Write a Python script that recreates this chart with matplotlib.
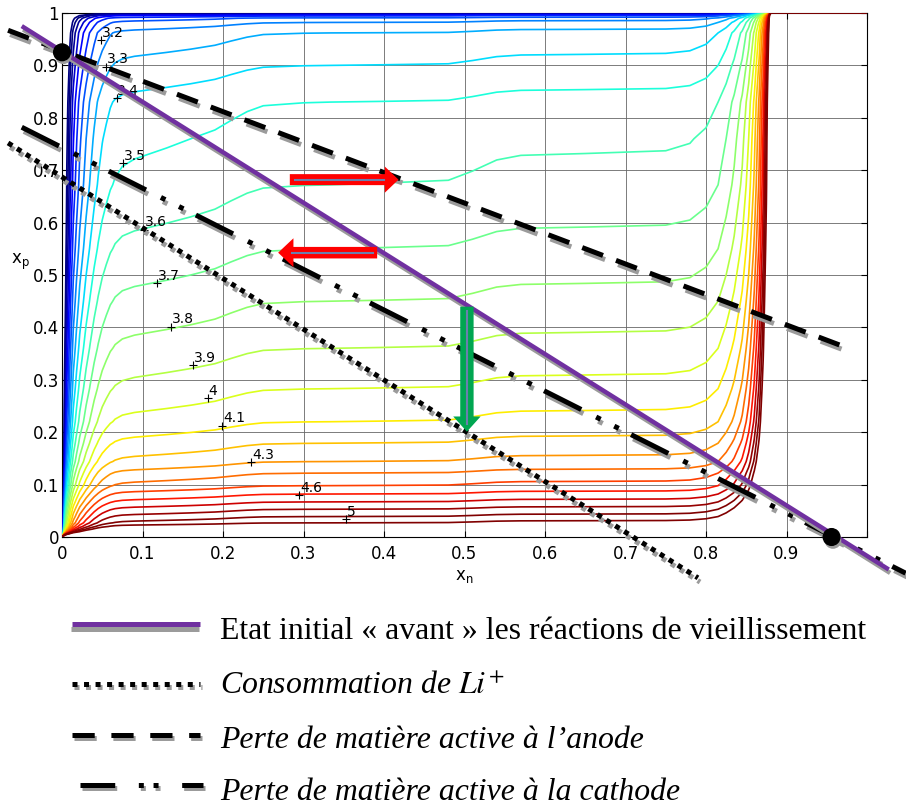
import numpy as np
import matplotlib
matplotlib.use('Agg')
import matplotlib.pyplot as plt
import matplotlib.patheffects as pe
from matplotlib.patches import FancyArrow

plt.rcParams['lines.scale_dashes'] = False
plt.rcParams['mathtext.fontset'] = 'dejavusans'

# anode potential Un(xn) and cathode potential Up(xp), read back from the map (V)
xn_tab = np.array([0.0, 0.003, 0.006, 0.01, 0.014, 0.018, 0.022, 0.026, 0.03, 0.035,
                   0.04, 0.045, 0.05, 0.055, 0.06, 0.066, 0.075, 0.09, 0.11, 0.13,
                   0.16, 0.19, 0.21, 0.23, 0.25, 0.3, 0.4, 0.48, 0.51, 0.54,
                   0.57, 0.65, 0.75, 0.78, 0.8, 0.815, 0.825, 0.835, 0.845, 0.853,
                   0.86, 0.866, 0.871, 0.875, 0.878, 0.881, 0.9, 1.0])
un_tab = np.array([3.0, 1.6, 1.2, 0.95, 0.78, 0.68, 0.59, 0.53, 0.47, 0.41,
                   0.355, 0.31, 0.275, 0.25, 0.228, 0.212, 0.2, 0.192, 0.186, 0.18,
                   0.17, 0.158, 0.145, 0.133, 0.125, 0.121, 0.118, 0.115, 0.105, 0.093,
                   0.088, 0.086, 0.083, 0.075, 0.055, 0.02, -0.03, -0.1, -0.2, -0.33,
                   -0.5, -0.7, -0.95, -1.25, -1.6, -2.55, -2.55, -2.55])
xp_tab = np.array([0.0, 0.003, 0.006, 0.01, 0.015, 0.02, 0.027, 0.039, 0.053, 0.067,
                   0.082, 0.098, 0.122, 0.144, 0.179, 0.22, 0.283, 0.36, 0.45, 0.55,
                   0.672, 0.76, 0.83, 0.9, 0.962, 0.982, 0.99, 0.995, 0.998, 1.0])
up_tab = np.array([9.0, 6.6, 6.0, 5.6, 5.38, 5.24, 5.12, 5.02, 4.92, 4.82,
                   4.72, 4.62, 4.52, 4.42, 4.32, 4.22, 4.12, 4.02, 3.92, 3.82,
                   3.72, 3.67, 3.62, 3.52, 3.42, 3.32, 3.24, 3.1, 2.85, 2.4])
levels = [2.5, 2.6, 2.7, 2.8, 2.9, 3.0, 3.1, 3.2, 3.3, 3.4, 3.5, 3.6, 3.7,
          3.8, 3.9, 4.0, 4.1, 4.2, 4.3, 4.4, 4.5, 4.6, 4.7, 4.8, 4.9, 5.0]

# contour labels (clabel style)
lab_txt = ['3.2', '3.3', '3.4', '3.5', '3.6', '3.7', '3.8', '3.9', '4', '4.1', '4.3', '4.6', '5']
lab_x = [0.049, 0.055, 0.068, 0.076, 0.102, 0.118, 0.136, 0.163, 0.181, 0.199, 0.235, 0.295, 0.353]
lab_y = [0.948, 0.897, 0.837, 0.713, 0.586, 0.484, 0.401, 0.328, 0.265, 0.212, 0.143, 0.080, 0.034]

# ageing lines (end points)
init_x = [-0.05, 1.027]
init_y = [0.975, -0.062]
li_x = [-0.067, 0.79]
li_y = [0.752, -0.078]
anode_x = [-0.067, 0.977]
anode_y = [0.967, 0.36]
cath_x = [-0.05, 1.048]
cath_y = [0.782, -0.069]
dots_x = [0.0, 0.956]
dots_y = [0.925, 0.0]

legend_txt = ['Etat initial « avant » les réactions de vieillissement',
              'Consommation de $Li^{+}$',
              'Perte de matière active à l\u2019anode',
              'Perte de matière active à la cathode']

purple = '#7030a0'
shadow = '#9b9b9b'
dash_anode = (0, (16, 10))
dash_cath = (0, (30, 12, 3.6, 11, 3.6, 10))
dash_li = (0, (3.6, 4))


def shade(off=(1.5, -3)):
    return [pe.SimpleLineShadow(offset=off, shadow_color=shadow, alpha=1), pe.Normal()]


fig = plt.figure(figsize=(9.06, 8.10), dpi=100)
ax = fig.add_axes([62 / 906, 273 / 810, 805 / 906, 524 / 810])

Z = up_tab[:, None] - un_tab[None, :]
ax.contour(xn_tab, xp_tab, Z, levels=levels, cmap='jet', vmin=2.65, vmax=4.85,
           linewidths=1.2, zorder=3)

for t, x, y in zip(lab_txt, lab_x, lab_y):
    ax.plot(x, y, marker='+', color='k', ms=6, mew=0.8, zorder=4)
    ax.annotate(t, (x, y), xytext=(0.5, 2.5), textcoords='offset points',
                ha='left', va='baseline', fontsize=10, zorder=4)

ax.set_xlim(0, 1)
ax.set_ylim(0, 1)
ax.set_xticks(np.arange(0, 1.01, 0.1))
ax.set_xticklabels(['0', '0.1', '0.2', '0.3', '0.4', '0.5', '0.6', '0.7', '0.8', '0.9', ''])
ax.set_yticks(np.arange(0, 1.01, 0.1))
ax.set_yticklabels(['0', '0.1', '0.2', '0.3', '0.4', '0.5', '0.6', '0.7', '0.8', '0.9', '1'])
ax.tick_params(direction='in', top=True, right=True, length=4, width=0.8, labelsize=12)
ax.tick_params(axis='x', pad=6)
ax.tick_params(axis='y', pad=2)
ax.grid(True, color='#666666', lw=0.6)
for s in ax.spines.values():
    s.set_linewidth(0.8)

ax.text(0.5, -0.075, r'$\mathrm{x}_\mathrm{n}$', transform=ax.transAxes, ha='center',
        va='center', fontsize=12)
ax.text(-0.052, 0.525, r'$\mathrm{x}_\mathrm{p}$', transform=ax.transAxes, ha='center',
        va='center', fontsize=12)

# ageing lines with drop shadow
ax.plot(li_x, li_y, color='k', lw=3.6, ls=dash_li, clip_on=False, zorder=5,
        dash_capstyle='butt', path_effects=shade())
ax.plot(anode_x, anode_y, color='k', lw=3.6, ls=dash_anode, clip_on=False, zorder=5,
        dash_capstyle='butt', path_effects=shade())
ax.plot(cath_x, cath_y, color='k', lw=3.6, ls=dash_cath, clip_on=False, zorder=5,
        dash_capstyle='butt', path_effects=shade())
ax.plot(init_x, init_y, color=purple, lw=3.2, clip_on=False, zorder=6,
        solid_capstyle='butt', path_effects=shade((1, -2.5)))
ax.plot(dots_x, dots_y, 'o', color='k', ms=12, clip_on=False, zorder=7,
        path_effects=[pe.SimplePatchShadow(offset=(1, -2.5), shadow_rgbFace=shadow, alpha=1),
                      pe.Normal()])

# arrows
arrow_blue = '#6b7fae'
a1 = FancyArrow(0.283, 0.682, 0.135, 0, width=0.021, head_width=0.05, head_length=0.017,
                length_includes_head=True, color='#ff0000', lw=0, zorder=8)
a2 = FancyArrow(0.3915, 0.5426, -0.123, 0, width=0.022, head_width=0.055, head_length=0.019,
                length_includes_head=True, color='#ff0000', lw=0, zorder=8)
a3 = FancyArrow(0.503, 0.4395, 0, -0.2385, width=0.0166, head_width=0.034, head_length=0.029,
                length_includes_head=True, color='#00a651', lw=0, zorder=8)
for a in (a1, a2, a3):
    ax.add_patch(a)
ax.plot([0.29, 0.40], [0.682, 0.682], color=arrow_blue, lw=1.5, zorder=9)
ax.plot([0.286, 0.386], [0.5426, 0.5426], color=arrow_blue, lw=1.5, zorder=9)
ax.plot([0.503, 0.503], [0.432, 0.215], color=arrow_blue, lw=1.5, zorder=9)

# legend drawn below the map, in pixel units
lg = fig.add_axes([0, 0, 1, 200 / 810])
lg.set_xlim(0, 906)
lg.set_ylim(810, 610)
lg.axis('off')
lg.plot([72, 200], [624, 624], color=purple, lw=3.6, solid_capstyle='butt',
        path_effects=shade((-0.5, -3.6)))
lg.plot([72, 200], [683.5, 683.5], color='k', lw=3.6, ls=(0, (3.6, 4.7)),
        dash_capstyle='butt', path_effects=shade((1.2, -2.5)))
lg.plot([72, 200], [734.5, 734.5], color='k', lw=3.6, ls=(0, (16, 12)),
        dash_capstyle='butt', path_effects=shade((1.5, -2.5)))
lg.plot([80, 203], [784.5, 784.5], color='k', lw=3.6, ls=(0, (25, 17, 3.6, 7, 3.6, 17)),
        dash_capstyle='butt', path_effects=shade((1.5, -2.5)))
ys = [639, 694, 748, 800]
for i, (t, y) in enumerate(zip(legend_txt, ys)):
    lg.text(220, y, t, fontsize=22.9, family='Liberation Serif', va='baseline', ha='left',
            style='normal' if i == 0 else 'italic', math_fontfamily='stix')

fig.savefig('out.png', dpi=100)
